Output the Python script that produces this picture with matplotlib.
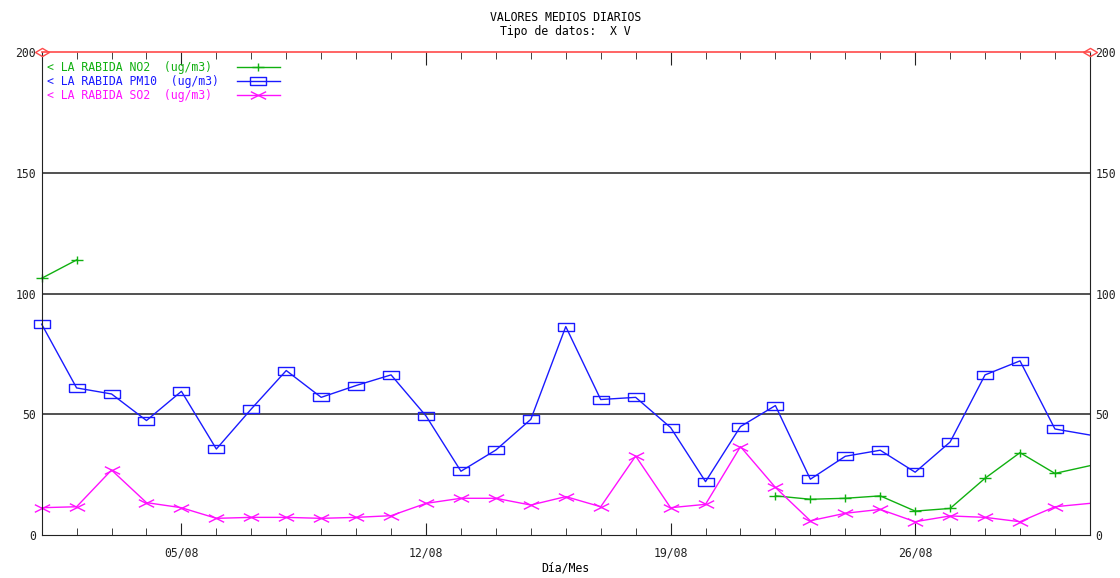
import matplotlib
matplotlib.use("Agg")
import matplotlib.pyplot as plt
import numpy as np
from matplotlib.path import Path

# datos (agosto, valores medios diarios)
days = np.arange(1, 32)
no2 = [106.3, 113.9] + [np.nan] * 19 + [16.2, 14.8, 15.2, 16.2, 9.9, 11.0,
                                        23.5, 34.1, 25.5, 28.7]
pm10 = [87.3, 60.9, 58.4, 47.4, 59.5, 35.6, 52.2, 68.1, 57.0, 61.9, 66.3,
        49.3, 26.4, 35.2, 47.9, 86.3, 56.1, 57.0, 44.5, 22.1, 44.9,
        53.6, 23.1, 32.6, 35.1, 26.0, 38.5, 66.3, 72.1, 43.9, 41.4]
so2 = [11.3, 11.7, 26.9, 13.4, 11.3, 6.9, 7.3, 7.3, 6.9, 7.3, 8.0,
       13.1, 15.2, 15.2, 12.4, 15.9, 11.7, 32.7, 11.3, 12.7, 36.6,
       19.7, 5.9, 9.0, 10.6, 5.5, 7.9, 7.3, 5.5, 11.7, 13.1]
limit = 200
labels = ["< LA RABIDA NO2  (ug/m3)",
          "< LA RABIDA PM10  (ug/m3)",
          "< LA RABIDA SO2  (ug/m3)"]
major_days = [5, 12, 19, 26]
major_labels = ["05/08", "12/08", "19/08", "26/08"]

GREEN = "#10b010"
BLUE = "#1a1aff"
MAGENTA = "#ff10ff"
RED = "#ff4a4a"

plt.rcParams["font.family"] = "DejaVu Sans Mono"
plt.rcParams["font.size"] = 8.3

# marcadores anchos como los del original
plus = Path([(-1.5, 0), (1.5, 0), (0, -1), (0, 1)],
            [Path.MOVETO, Path.LINETO, Path.MOVETO, Path.LINETO])
rect = Path([(-2, -1), (2, -1), (2, 1), (-2, 1), (-2, -1)])
bowtie = Path([(-2, -1), (2, 1), (-2, 1), (2, -1)],
              [Path.MOVETO, Path.LINETO, Path.MOVETO, Path.LINETO])
diamond = Path([(-1.7, 0), (0, 1), (1.7, 0), (0, -1), (-1.7, 0)])

styles = [
    dict(color=GREEN, marker=plus, ms=8.6),
    dict(color=BLUE, marker=rect, ms=11, mfc="none"),
    dict(color=MAGENTA, marker=bowtie, ms=11),
]

fig = plt.figure(figsize=(11.2, 5.78), dpi=100)
ax = fig.add_axes([0.0372, 0.0744, 0.9359, 0.8356])

for vals, st in zip([no2, pm10, so2], styles):
    ax.plot(days, vals, lw=1, mew=1, markevery=slice(0, 30),
            clip_on=False, **st)

ax.plot([days[0], days[-1]], [limit, limit], color=RED, lw=1.2,
        marker=diamond, ms=10, mfc="none", mew=1, clip_on=False, zorder=5)

for v in [50, 100, 150]:
    ax.axhline(v, color="#333333", lw=1.2, zorder=0)

ax.set_xlim(1, 31)
ax.set_ylim(0, 200)
ax.set_yticks([0, 50, 100, 150, 200])
ax.tick_params(axis="y", length=0, pad=4, labelright=True, colors="#222222")
ax.set_xticks(major_days, major_labels)
ax.set_xticks(days, minor=True)
ax.tick_params(axis="x", which="both", direction="in", top=True,
               colors="#222222")
ax.tick_params(axis="x", which="major", length=9, pad=8)
ax.tick_params(axis="x", which="minor", length=5)
ax.spines["top"].set_visible(False)
for s in ["left", "right", "bottom"]:
    ax.spines[s].set_color("#222222")

fig.text(0.505, 0.017, "Día/Mes", ha="center", va="center")
fig.text(0.505, 0.969, "VALORES MEDIOS DIARIOS", ha="center", va="center")
fig.text(0.505, 0.945, "Tipo de datos:  X V", ha="center", va="center")

# leyenda a mano: texto alineado a la izquierda, muestra a la derecha
for i, (lab, st) in enumerate(zip(labels, styles)):
    y = 0.968 - i * 0.029
    ax.text(0.005, y, lab, color=st["color"], transform=ax.transAxes,
            va="center", ha="left")
    ax.plot([0.1863, 0.2273], [y, y], color=st["color"], lw=1,
            transform=ax.transAxes)
    ax.plot([0.2068], [y], lw=0, mew=1, transform=ax.transAxes, **st)

fig.savefig("out.png", dpi=100)
